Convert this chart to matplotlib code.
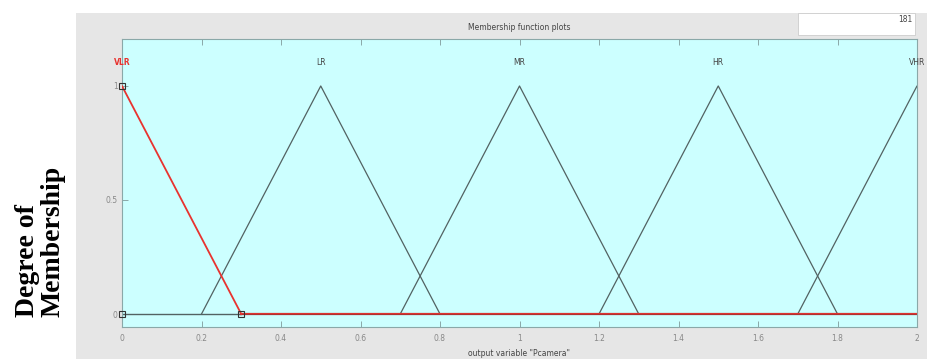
import matplotlib
matplotlib.use("Agg")
import matplotlib.pyplot as plt
from matplotlib.patches import Rectangle

# Data
mf_names = ["VLR", "LR", "MR", "HR", "VHR"]
mf_params = [[-0.3, 0.0, 0.3], [0.2, 0.5, 0.8], [0.7, 1.0, 1.3], [1.2, 1.5, 1.8], [1.7, 2.0, 2.3]]
x_range = [0.0, 2.0]
x_ticks = [0, 0.2, 0.4, 0.6, 0.8, 1, 1.2, 1.4, 1.6, 1.8, 2]
x_tick_labels = ["0", "0.2", "0.4", "0.6", "0.8", "1", "1.2", "1.4", "1.6", "1.8", "2"]
y_ticks = [0, 0.5, 1]
y_tick_labels = ["0", "0.5", "1"]
selected = "VLR"
point_count = "181"

W, H = 928, 359
fig = plt.figure(figsize=(W / 100, H / 100), dpi=100)
fig.patch.set_facecolor("white")

# Gray panel (drawn as background axes)
bg = fig.add_axes([76 / W, 0, 1 - 76 / W, 1 - 13 / H], zorder=-5)
bg.set_facecolor("#e6e6e6")
bg.set_xticks([]); bg.set_yticks([])
for s in bg.spines.values():
    s.set_visible(False)

# White box with point count
fig.patches.append(Rectangle((798 / W, 1 - 35 / H), (915 - 798) / W, 22 / H, transform=fig.transFigure,
                             facecolor="white", edgecolor="#cccccc", linewidth=0.6, zorder=5))
fig.text(912 / W, 1 - 20 / H, point_count, ha="right", va="center", fontsize=5.5, color="#444444", zorder=6)
fig.text(0.5 * (122 + 917) / W, 1 - 27 / H, "Membership function plots", ha="center", va="center",
         fontsize=5.5, color="#444444")

ax = fig.add_axes([122 / W, 1 - 327 / H, (917 - 122) / W, (327 - 39) / H], zorder=1)
ax.set_facecolor("#ccffff")
ax.set_xlim(x_range)
ax.set_ylim(-0.057, 1.206)
for s in ax.spines.values():
    s.set_color("#8aa8a8")
    s.set_linewidth(0.8)

dark = "#526262"
red = "#e8332f"

for name, (a, b, c) in zip(mf_names, mf_params):
    xs = [a, b, c]
    ys = [0, 1, 0]
    col = red if name == selected else dark
    lw = 1.3 if name == selected else 0.9
    ax.plot(xs, ys, color=col, linewidth=lw, zorder=3 if name == selected else 2, clip_on=True)
    lx = min(max(b, x_range[0]), x_range[1])
    ax.text(lx, 1.105, name, ha="center", va="center", fontsize=5.5,
            color=red if name == selected else "#444444",
            fontweight="bold" if name == selected else "normal", clip_on=False)

# Baseline
sel = mf_params[mf_names.index(selected)]
ax.plot([x_range[0], sel[2]], [0, 0], color=dark, linewidth=1.0, zorder=2)
ax.plot([sel[2], x_range[1]], [0, 0], color="#b03030", linewidth=1.6, zorder=2)
ax.plot([sel[2], x_range[1]], [0.006, 0.006], color=red, linewidth=0.6, zorder=2)
# Square markers of selected MF
ax.plot([0, 0, sel[2]], [1, 0, 0], linestyle="none", marker="s", markersize=4.5,
        markerfacecolor="none", markeredgecolor="#333333", markeredgewidth=0.8, zorder=4, clip_on=False)

ax.set_xticks(x_ticks)
ax.set_xticklabels(x_tick_labels)
ax.set_yticks(y_ticks)
ax.set_yticklabels(y_tick_labels)
ax.tick_params(axis="x", direction="in", top=True, bottom=True, length=4, width=0.7, color="#8aa8a8",
               labelsize=5.5, labelcolor="#888888", pad=5)
ax.tick_params(axis="y", direction="in", left=True, right=False, length=4, width=0.7, color="#8aa8a8",
               labelsize=5.5, labelcolor="#888888", pad=3)
ax.set_xlabel('output variable "Pcamera"', fontsize=5.5, color="#444444", labelpad=4)

fig.text(40 / W, 1 - 317 / H, "Degree of\nMembership", rotation=90, ha="center", va="bottom",
         multialignment="left", fontsize=20, fontweight="bold", family="Liberation Serif",
         color="black", linespacing=1.0)

fig.savefig("out.png", dpi=100)
